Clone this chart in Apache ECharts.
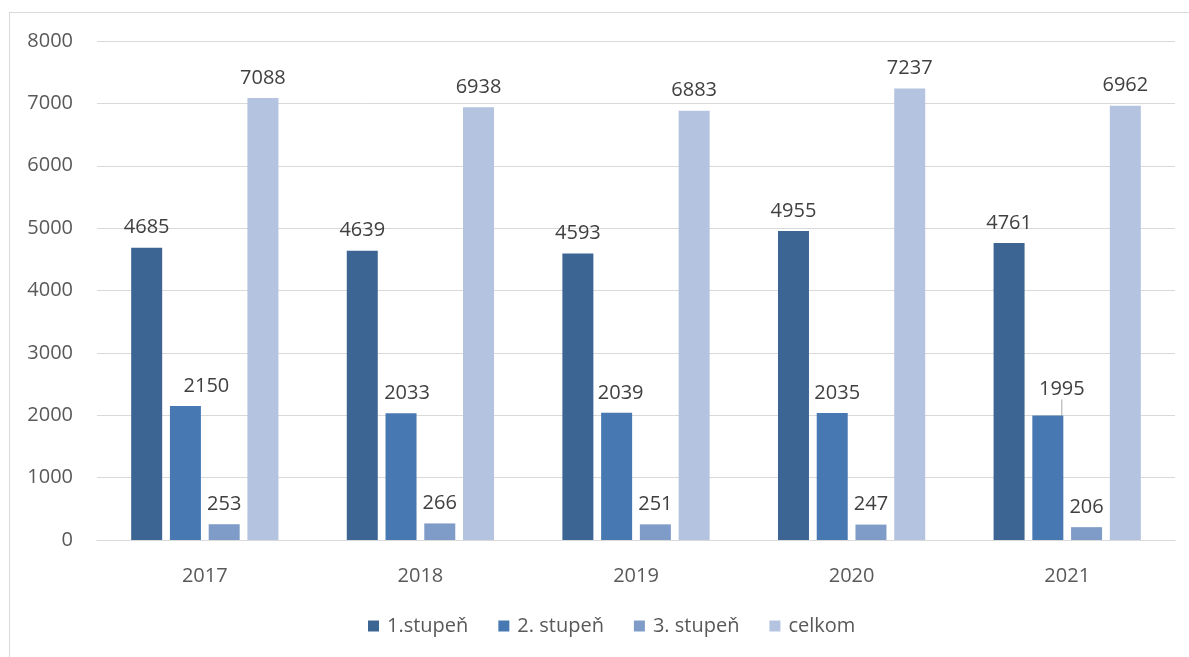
<!DOCTYPE html>
<html><head><meta charset="utf-8">
<script src="https://cdn.jsdelivr.net/npm/echarts@6/dist/echarts.min.js"></script>
<style>html,body{margin:0;padding:0;background:#fff}#c{width:1189px;height:657px}
#frame{position:absolute;left:9px;top:12px;width:1200px;height:700px;border:1px solid #d9d9d9;box-sizing:border-box;pointer-events:none}</style>
</head><body><div id="frame"></div><div id="c"></div>
<script>
const categories = ['2017','2018','2019','2020','2021'];
const stupen1 = [4685,4639,4593,4955,4761];
const stupen2 = [2150,2033,2039,2035,1995];
const stupen3 = [253,266,251,247,206];
const celkom = [7088,6938,6883,7237,6962];
const seriesNames = ['1.stupeň','2. stupeň','3. stupeň','celkom'];
const stupen2LabelShift = [[21,0],[6,0],[4,0],[5,0],[14,-6]];
const colors = ['#3c6594','#4778b2','#7f9cc9','#b4c3df'];
const font = '"Open Sans", sans-serif';
const chart = echarts.init(document.getElementById('c'));
const mk = (name, data, i) => {
  const s = {
    name, type:'bar', barWidth:31, barGap:'25%',
    itemStyle:{color:colors[i]},
    label:{show:true, position:'top', distance:10, color:'#404040', fontSize:20, fontFamily:font},
    data: data
  };
  if (i === 1) {
    s.data = data.map((v, k) => k === 4
      ? {value:v, labelLine:{show:true, lineStyle:{color:'#a6a6a6', width:1}}}
      : {value:v});
    s.labelLayout = function(p){ const d = stupen2LabelShift[p.dataIndex]; return {dx:d[0], dy:d[1]}; };
  }
  return s;
};
chart.setOption({
  animation:false,
  color:colors,
  grid:{left:97, right:14, top:41, bottom:117},
  legend:{top:611, left:363, itemWidth:11, itemHeight:11, itemGap:30, icon:'rect',
    textStyle:{color:'#595959', fontSize:20, fontFamily:font, padding:[0,0,0,3]}, data:seriesNames},
  xAxis:{type:'category', data:categories,
    axisLine:{lineStyle:{color:'#d9d9d9', width:1}}, axisTick:{show:false},
    axisLabel:{color:'#595959', fontSize:20, fontFamily:font, margin:26}},
  yAxis:{type:'value', min:0, max:8000, interval:1000,
    axisLabel:{color:'#595959', fontSize:20, fontFamily:font, margin:24, formatter: v => String(v)},
    splitLine:{lineStyle:{color:'#d9d9d9', width:1}}, axisLine:{show:false}, axisTick:{show:false}},
  series:[mk(seriesNames[0],stupen1,0), mk(seriesNames[1],stupen2,1), mk(seriesNames[2],stupen3,2), mk(seriesNames[3],celkom,3)]
});
</script></body></html>
